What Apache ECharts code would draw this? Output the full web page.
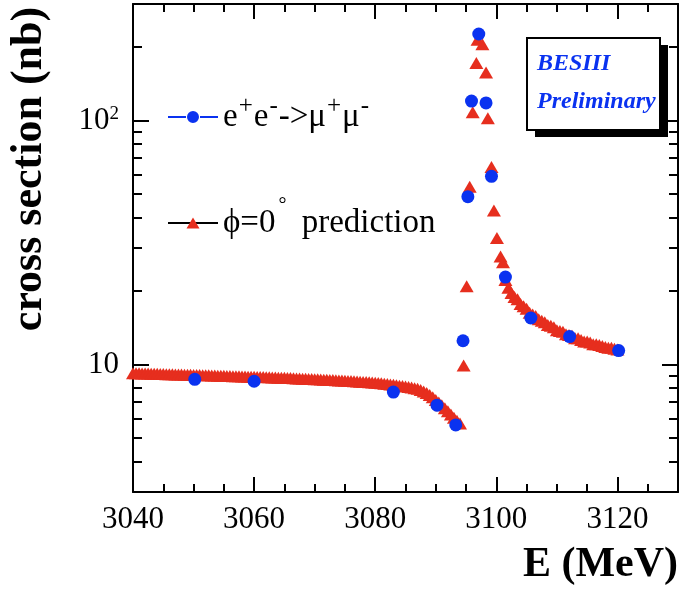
<!DOCTYPE html>
<html>
<head>
<meta charset="utf-8">
<script src="https://cdn.jsdelivr.net/npm/echarts@6/dist/echarts.min.js"></script>
<style>
html, body { margin: 0; padding: 0; background: #fff; }
#chart { width: 679px; height: 590px; }
</style>
</head>
<body>
<div id="chart"></div>
<script>
// measured points, e+e- -> mu+mu-
const muPoints = [
    [3050.2, 8.69], [3060.0, 8.53], [3083.0, 7.70], [3090.2, 6.81], [3093.3, 5.65],
    [3094.5, 12.5], [3095.3, 48.7], [3095.9, 120], [3097.1, 226], [3098.3, 118],
    [3099.2, 59.0], [3101.5, 22.8], [3105.7, 15.5], [3112.1, 13.0], [3120.2, 11.4],
]

// phi = 0 prediction, below the resonance (0.5 MeV scan)
const predBelow = [
    [3040, 9.20], [3040.5, 9.19], [3041, 9.19], [3041.5, 9.18], [3042, 9.17], [3042.5, 9.17],
    [3043, 9.16], [3043.5, 9.15], [3044, 9.15], [3044.5, 9.14], [3045, 9.13], [3045.5, 9.12],
    [3046, 9.12], [3046.5, 9.11], [3047, 9.10], [3047.5, 9.10], [3048, 9.09], [3048.5, 9.08],
    [3049, 9.07], [3049.5, 9.07], [3050, 9.06], [3050.5, 9.05], [3051, 9.04], [3051.5, 9.03],
    [3052, 9.03], [3052.5, 9.02], [3053, 9.01], [3053.5, 9.00], [3054, 8.99], [3054.5, 8.99],
    [3055, 8.98], [3055.5, 8.97], [3056, 8.96], [3056.5, 8.95], [3057, 8.94], [3057.5, 8.94],
    [3058, 8.93], [3058.5, 8.92], [3059, 8.91], [3059.5, 8.90], [3060, 8.90], [3060.5, 8.89],
    [3061, 8.88], [3061.5, 8.87], [3062, 8.86], [3062.5, 8.85], [3063, 8.84], [3063.5, 8.83],
    [3064, 8.82], [3064.5, 8.81], [3065, 8.81], [3065.5, 8.80], [3066, 8.79], [3066.5, 8.77],
    [3067, 8.76], [3067.5, 8.75], [3068, 8.74], [3068.5, 8.73], [3069, 8.72], [3069.5, 8.71],
    [3070, 8.70], [3070.5, 8.69], [3071, 8.68], [3071.5, 8.66], [3072, 8.65], [3072.5, 8.64],
    [3073, 8.63], [3073.5, 8.61], [3074, 8.60], [3074.5, 8.59], [3075, 8.58], [3075.5, 8.56],
    [3076, 8.55], [3076.5, 8.53], [3077, 8.52], [3077.5, 8.50], [3078, 8.48], [3078.5, 8.47],
    [3079, 8.45], [3079.5, 8.44], [3080, 8.42], [3080.5, 8.40], [3081, 8.37], [3081.5, 8.34],
    [3082, 8.31], [3082.5, 8.28], [3083, 8.25], [3083.5, 8.22], [3084, 8.18], [3084.5, 8.15],
    [3085, 8.12], [3085.5, 8.08], [3086, 8.04], [3086.5, 7.99], [3087, 7.94], [3087.5, 7.85],
    [3088, 7.75], [3088.5, 7.63], [3089, 7.50], [3089.5, 7.33], [3090, 7.15], [3090.5, 6.98],
    [3091, 6.80], [3091.5, 6.62], [3092, 6.43], [3092.5, 6.24], [3093, 6.05], [3093.5, 5.88],
    [3094, 5.72],
]

// phi = 0 prediction, across the peak
const predPeak = [
    [3094.6, 9.9], [3095.1, 20.9], [3095.6, 53.5], [3096.1, 108], [3096.7, 172], [3096.9, 214],
    [3097.7, 205], [3098.3, 157], [3098.6, 102], [3099.2, 64.4], [3099.6, 42.7], [3100.1, 33.0],
    [3100.7, 27.7], [3101.1, 26.2],
]

// phi = 0 prediction, above the resonance
const predAbove = [
    [3101.5, 22.2], [3102, 20.6], [3102.5, 19.6], [3103, 18.9], [3103.5, 18.5], [3104, 17.7],
    [3104.5, 17.3], [3105, 16.9], [3105.5, 16.3], [3106, 16.0], [3106.5, 15.8], [3107, 15.3],
    [3107.5, 15.1], [3108, 14.9], [3108.5, 14.5], [3109, 14.4], [3109.5, 14.2], [3110, 13.8],
    [3110.5, 13.7], [3111, 13.6], [3111.5, 13.3], [3112, 13.2], [3112.5, 13.1], [3113, 12.8],
    [3113.5, 12.8], [3114, 12.6], [3114.5, 12.4], [3115, 12.4], [3115.5, 12.3], [3116, 12.1],
    [3116.5, 12.1], [3117, 12.0], [3117.5, 11.9], [3118, 11.8], [3118.5, 11.7], [3119, 11.7],
    [3119.5, 11.6], [3120, 11.5],
]

const xRange = [3040, 3130]
const yRange = [3, 300]
const yMajor = [10, 100]
const yMinor = [3, 4, 5, 6, 7, 8, 9, 20, 30, 40, 50, 60, 70, 80, 90, 200, 300]

const BLUE = '#0a32f0'
const RED = '#e62e1e'
const FONT = '"Liberation Serif", "Times New Roman", serif'

const chart = echarts.init(document.getElementById('chart'))

const xAxisBase = (pos, major) => ({
    type: 'value',
    position: pos,
    min: xRange[0],
    max: xRange[1],
    interval: major ? 20 : 5,
    axisLine: { show: major, lineStyle: { color: '#000', width: 2 } },
    axisTick: { show: true, inside: true, length: major ? 15 : 8, lineStyle: { color: '#000', width: 2 } },
    axisLabel: {
        show: major && pos === 'bottom',
        showMaxLabel: false,
        margin: 12,
        color: '#000',
        fontFamily: FONT,
        fontSize: 31,
        formatter: (v) => String(v),
    },
    splitLine: { show: false },
})

const yAxisBase = (pos, major) => ({
    type: 'log',
    logBase: 10,
    position: pos,
    min: yRange[0],
    max: yRange[1],
    axisLine: { show: major, lineStyle: { color: '#000', width: 2 } },
    axisTick: {
        show: true,
        inside: true,
        length: major ? 16 : 9,
        customValues: major ? yMajor : yMinor,
        lineStyle: { color: '#000', width: 2 },
    },
    axisLabel: {
        show: major && pos === 'left',
        customValues: yMajor,
        margin: 14,
        color: '#000',
        fontFamily: FONT,
        fontSize: 31,
        formatter: (v) => (v >= 99 ? '10{sup|2}' : '10'),
        rich: {
            sup: { fontFamily: FONT, fontSize: 19, verticalAlign: 'top', color: '#000' },
        },
    },
    splitLine: { show: false },
})

const legendText = {
    mumu: 'e{sup|+}e{sup|-}->μ{sup|+}μ{sup|-}',
    pred: 'ϕ=0{deg|°} prediction',
}

const legendStyle = (lh) => ({
    color: '#000',
    fontFamily: FONT,
    fontSize: 33,
    lineHeight: lh,
    rich: {
        sup: { fontFamily: FONT, fontSize: 25, verticalAlign: 'top', padding: [0, 1, 0, 1], color: '#000' },
        deg: { fontFamily: FONT, fontSize: 20, verticalAlign: 'top', padding: [0, 7, 0, 3], color: '#000' },
    },
})

const option = {
    animation: false,
    backgroundColor: '#fff',
    grid: { left: 133, top: 4, width: 545, height: 488, containLabel: false },
    xAxis: [
        xAxisBase('bottom', true),
        xAxisBase('bottom', false),
        xAxisBase('top', true),
        xAxisBase('top', false),
    ],
    yAxis: [
        yAxisBase('left', true),
        yAxisBase('left', false),
        yAxisBase('right', true),
        yAxisBase('right', false),
    ],
    legend: [
        {
            data: ['mumu'],
            left: 168,
            top: 94,
            padding: 0,
            itemWidth: 50,
            itemHeight: 12,
            icon: 'path://M0 6L18 6L18 8L0 8Z M32 6L50 6L50 8L32 8Z M19 7A6 6 0 1 1 31 7A6 6 0 1 1 19 7Z',
            formatter: (n) => legendText[n],
            textStyle: legendStyle(46),
            selectedMode: false,
        },
        {
            data: ['pred'],
            left: 168,
            top: 196,
            padding: 0,
            itemWidth: 50,
            itemHeight: 11,
            icon: 'path://M0 5.5L0.01 5.5L0 5.6Z M50 5.5L49.99 5.5L50 5.6Z M18.5 11L25 0L31.5 11Z',
            formatter: (n) => legendText[n],
            textStyle: legendStyle(54),
            selectedMode: false,
        },
    ],
    graphic: [
        // black line behind the prediction legend marker
        { type: 'line', z: 1, shape: { x1: 168, y1: 223, x2: 218, y2: 223 }, style: { stroke: '#000', lineWidth: 2 } },
        {
            type: 'text',
            x: 30,
            y: 169,
            rotation: Math.PI / 2,
            style: {
                text: 'cross section (nb)',
                font: 'bold 44px ' + FONT,
                fill: '#000',
                textAlign: 'center',
                textVerticalAlign: 'middle',
            },
        },
        {
            type: 'text',
            x: 678,
            y: 565,
            style: {
                text: 'E (MeV)',
                font: 'bold 42px ' + FONT,
                fill: '#000',
                textAlign: 'right',
                textVerticalAlign: 'middle',
            },
        },
        { type: 'rect', z: 10, shape: { x: 535, y: 45, width: 133, height: 92 }, style: { fill: '#000' } },
        {
            type: 'rect',
            z: 11,
            shape: { x: 527, y: 38, width: 133, height: 92 },
            style: { fill: '#fff', stroke: '#000', lineWidth: 2 },
        },
        {
            type: 'text',
            z: 12,
            x: 537,
            y: 64,
            style: { text: 'BESIII', font: 'italic bold 24px ' + FONT, fill: BLUE, textVerticalAlign: 'middle' },
        },
        {
            type: 'text',
            z: 12,
            x: 537,
            y: 102,
            style: { text: 'Preliminary', font: 'italic bold 24px ' + FONT, fill: BLUE, textVerticalAlign: 'middle' },
        },
    ],
    series: [
        {
            name: 'pred',
            type: 'scatter',
            clip: false,
            symbol: 'triangle',
            symbolSize: [14, 12],
            itemStyle: { color: RED, opacity: 1 },
            data: predBelow.concat(predPeak, predAbove),
        },
        {
            name: 'mumu',
            type: 'scatter',
            clip: false,
            symbol: 'circle',
            symbolSize: 13,
            itemStyle: { color: BLUE, opacity: 1 },
            data: muPoints,
        },
    ],
}

chart.setOption(option)
</script>
</body>
</html>
